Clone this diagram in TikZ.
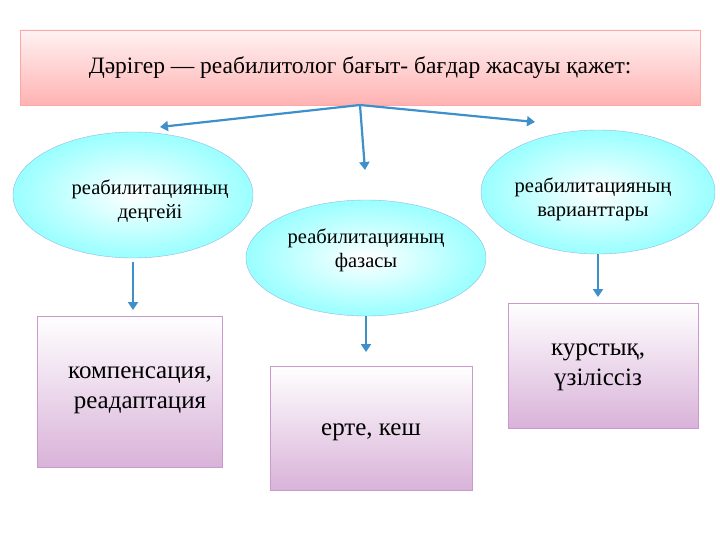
\documentclass[tikz,border=0pt]{standalone}
\usepackage{fontspec}
\setmainfont{Liberation Serif}
\usetikzlibrary{shapes.geometric,arrows.meta}
\definecolor{arrc}{HTML}{3F8FCB}
\begin{document}
\begin{tikzpicture}[x=1pt,y=-1pt,
 ell/.style={ellipse,draw=cyan!50!blue!40,inner color=white,outer color=cyan!40,minimum width=#1},
 box/.style={draw=violet!40,top color=white,bottom color=violet!30,align=center},
 arr/.style={draw=arrc,line width=2.2pt,-{Triangle[length=8pt,width=10pt]}},
 txt/.style={font=\fontsize{20.5}{24}\selectfont,align=center}]
\useasboundingbox (0,0) rectangle (720,540);
\node[draw=red!35,top color=red!5,bottom color=red!30,minimum width=680pt,minimum height=75pt,font=\fontsize{23.5}{27}\selectfont] (top) at (360,67.5) {Дәрігер — реабилитолог бағыт- бағдар жасауы қажет:};
\coordinate (src) at (360,105);
\node[ell=240pt,minimum height=126pt] (e1) at (133,195) {};
\node[txt] at (150,201) {реабилитацияның\\деңгейі};
\node[ell=234pt,minimum height=124pt] (e3) at (598,192) {};
\node[txt] at (593,199) {реабилитацияның\\варианттары};
\node[ell=240pt,minimum height=116pt] (e2) at (366,258) {};
\node[txt] at (366,250) {реабилитацияның\\фазасы};
\node[box,minimum width=185pt,minimum height=151pt] (b1) at (129.5,391.5) {};
\node[txt,font=\fontsize{25}{30}\selectfont] at (140,390) {компенсация,\\реадаптация};
\node[box,minimum width=202pt,minimum height=124pt] (b2) at (371,428) {};
\node[txt,font=\fontsize{25}{30}\selectfont] at (371,432) {ерте, кеш};
\node[box,minimum width=190pt,minimum height=125pt] (b3) at (603,365.5) {};
\node[txt,font=\fontsize{25}{30}\selectfont] at (598,367) {курстық,\\үзіліссіз};
\coordinate (a1) at (160,127); \coordinate (a2) at (365,170); \coordinate (a3) at (535,122);
\draw[arr] (src) -- (a1);
\draw[arr] (src) -- (a2);
\draw[arr] (src) -- (a3);
\draw[arr] (e1.south) ++(0,4) -- (133,310);
\draw[arr] (e2.south) -- (366,352);
\draw[arr] (e3.south) -- (598,297);
\end{tikzpicture}
\end{document}
